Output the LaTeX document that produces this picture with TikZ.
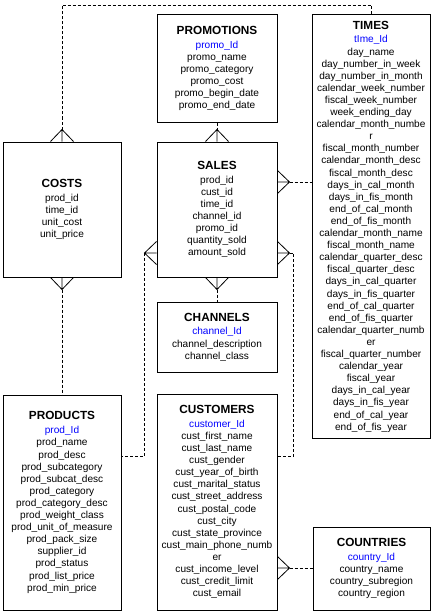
\documentclass[tikz,border=0pt]{standalone}
\usepackage{fontspec}
\setmainfont{Liberation Sans}
\usetikzlibrary{calc}
\definecolor{pkblue}{RGB}{0,0,255}
\newcommand\rowsize{\fontsize{10.1}{12.1}\selectfont}
\newcommand\ttl[1]{{\fontsize{11.8}{12.1}\selectfont\bfseries #1}\\[1.8pt]}
\newcommand\pk[1]{\textcolor{pkblue}{#1}}
\newcommand\crowfoot[2]{\draw[crowline] ($(#1)!11.5pt!90:(#2)$) -- (#2) -- ($(#1)!11.5pt!-90:(#2)$) (#1) -- (#2);}
\begin{document}
\begin{tikzpicture}[x=1pt,y=-1pt,
  entity/.style={draw, line width=1pt, inner sep=0pt, align=center, font=\rowsize},
  rel/.style={line width=0.8pt, dash pattern=on 3pt off 2pt},
  crowline/.style={line width=0.8pt}]
\useasboundingbox[fill=white] (0,0) rectangle (435,615);

\node[entity, minimum width=120pt, minimum height=107pt] (promotions) at (217,68.5)
 {\ttl{PROMOTIONS}\pk{promo\_Id}\\promo\_name\\promo\_category\\promo\_cost\\promo\_begin\_date\\promo\_end\_date};

\node[entity, minimum width=118pt, minimum height=423pt] (times) at (371,226.5)
 {\ttl{TIMES}\pk{tIme\_Id}\\day\_name\\day\_number\_in\_week\\day\_number\_in\_month\\calendar\_week\_number\\fiscal\_week\_number\\week\_ending\_day\\calendar\_month\_numbe\\r\\fiscal\_month\_number\\calendar\_month\_desc\\fiscal\_month\_desc\\days\_in\_cal\_month\\days\_in\_fis\_month\\end\_of\_cal\_month\\end\_of\_fis\_month\\calendar\_month\_name\\fiscal\_month\_name\\calendar\_quarter\_desc\\fiscal\_quarter\_desc\\days\_in\_cal\_quarter\\days\_in\_fis\_quarter\\end\_of\_cal\_quarter\\end\_of\_fis\_quarter\\calendar\_quarter\_numb\\er\\fiscal\_quarter\_number\\calendar\_year\\fiscal\_year\\days\_in\_cal\_year\\days\_in\_fis\_year\\end\_of\_cal\_year\\end\_of\_fis\_year};

\node[entity, minimum width=118pt, minimum height=135pt] (costs) at (62,209.5)
 {\ttl{COSTS}prod\_id\\time\_id\\unit\_cost\\unit\_price};

\node[entity, minimum width=120pt, minimum height=135pt] (sales) at (217,209.5)
 {\ttl{SALES}prod\_id\\cust\_id\\time\_id\\channel\_id\\promo\_id\\quantity\_sold\\amount\_sold};

\node[entity, minimum width=120pt, minimum height=70pt] (channels) at (217,337)
 {\ttl{CHANNELS}\pk{channel\_Id}\\channel\_description\\channel\_class};

\node[entity, minimum width=118pt, minimum height=215pt] (products) at (62,502.5)
 {\ttl{PRODUCTS}\pk{prod\_Id}\\prod\_name\\prod\_desc\\prod\_subcategory\\prod\_subcat\_desc\\prod\_category\\prod\_category\_desc\\prod\_weight\_class\\prod\_unit\_of\_measure\\prod\_pack\_size\\supplier\_id\\prod\_status\\prod\_list\_price\\prod\_min\_price};

\node[entity, minimum width=120pt, minimum height=216pt] (customers) at (217,502)
 {\ttl{CUSTOMERS}\pk{customer\_Id}\\cust\_first\_name\\cust\_last\_name\\cust\_gender\\cust\_year\_of\_birth\\cust\_marital\_status\\cust\_street\_address\\cust\_postal\_code\\cust\_city\\cust\_state\_province\\cust\_main\_phone\_numb\\er\\cust\_income\_level\\cust\_credit\_limit\\cust\_email};

\node[entity, minimum width=117pt, minimum height=83pt] (countries) at (371.5,568.5)
 {\ttl{COUNTRIES}\pk{country\_Id}\\country\_name\\country\_subregion\\country\_region};

% crow's feet (edge point, apex)
\coordinate (ct-e) at (costs.north);      \coordinate (ct-a) at ([yshift=12pt]costs.north);
\coordinate (cp-e) at (costs.south);      \coordinate (cp-a) at ([yshift=-12pt]costs.south);
\coordinate (ps-e) at (sales.north);      \coordinate (ps-a) at ([yshift=12pt]sales.north);
\coordinate (sc-e) at (sales.south);      \coordinate (sc-a) at ([yshift=-12pt]sales.south);
\coordinate (st-e) at (sales.east |- 0,182); \coordinate (st-a) at ([xshift=12pt]st-e);
\coordinate (sp-e) at (sales.west |- 0,253); \coordinate (sp-a) at ([xshift=-12pt]sp-e);
\coordinate (su-e) at (sales.east |- 0,253); \coordinate (su-a) at ([xshift=12pt]su-e);
\coordinate (cc-e) at (customers.east |- 0,568); \coordinate (cc-a) at ([xshift=12pt]cc-e);
\coordinate (topline) at (0,5);
\coordinate (pe) at (products.east |- 0,456);
\coordinate (ce) at (customers.east |- 0,456);

\crowfoot{ct-e}{ct-a}
\crowfoot{cp-e}{cp-a}
\crowfoot{ps-e}{ps-a}
\crowfoot{sc-e}{sc-a}
\crowfoot{st-e}{st-a}
\crowfoot{sp-e}{sp-a}
\crowfoot{su-e}{su-a}
\crowfoot{cc-e}{cc-a}

% relationships
\draw[rel] (ct-a) -- (ct-a |- topline) -| (times.north);
\draw[rel] (promotions.south) -- (ps-a);
\draw[rel] (st-a) -- (times.west |- st-a);
\draw[rel] (sp-a) |- (pe);
\draw[rel] (cp-a) -- (products.north);
\draw[rel] (sc-a) -- (channels.north);
\draw[rel] (su-a) -- ++(4,0) |- (ce);
\draw[rel] (cc-a) -- (countries.west |- cc-a);
\end{tikzpicture}
\end{document}
